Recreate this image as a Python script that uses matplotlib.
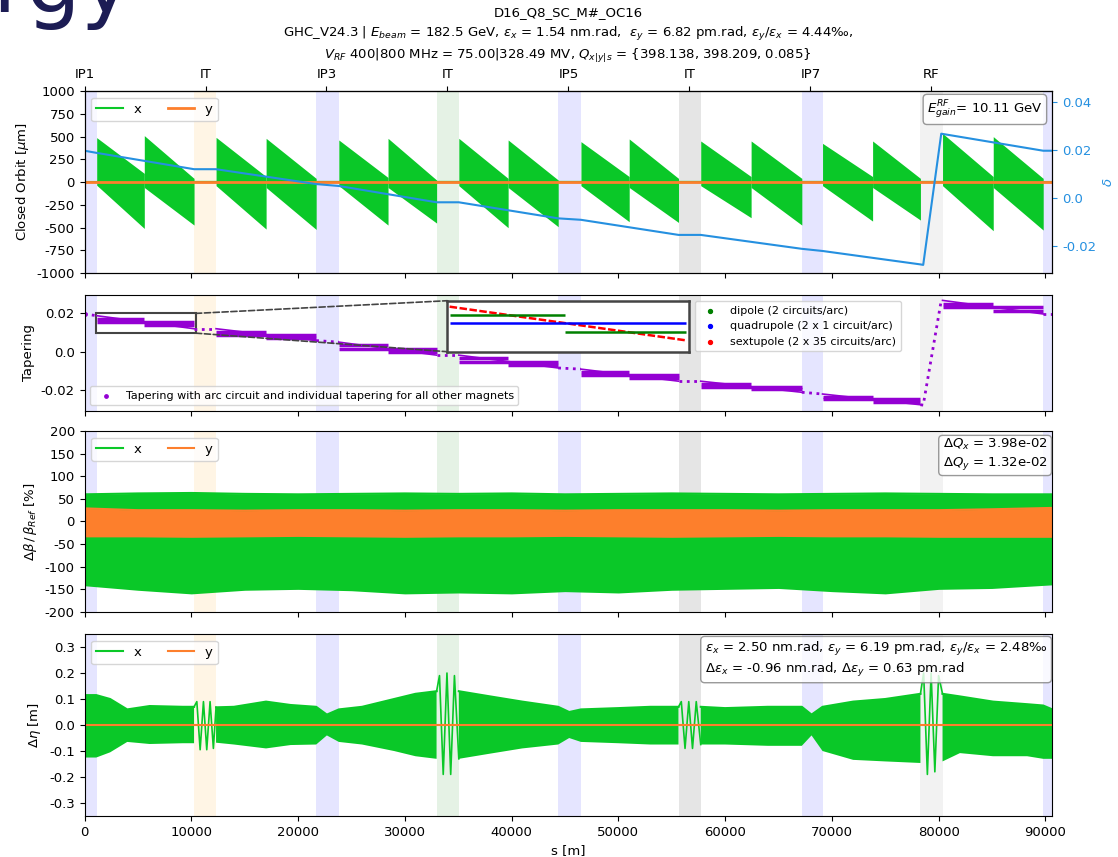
import numpy as np
import matplotlib.pyplot as plt
from matplotlib.patches import Rectangle, ConnectionPatch

plt.rcParams['font.size'] = 9.5
plt.rcParams['axes.unicode_minus'] = False

GREEN = '#0ac828'
ORANGE = '#fd7f2c'
BLUE = '#2590e0'
PURPLE = 'darkviolet'

L = 90658.7

# top axis: interaction points / straights
ip_names = ['IP1', 'IT', 'IP3', 'IT', 'IP5', 'IT', 'IP7', 'RF']
ip_pos = [0, 11332.6, 22665.2, 33997.8, 45330.4, 56663.0, 67995.6, 79328.2]

# shaded straight sections
str_start = [0, 10260, 21700, 32980, 44370, 55640, 67190, 78300, 89800]
str_end = [1140, 12320, 23820, 35060, 46500, 57720, 69130, 80370, 90658.7]
str_color = ['blue', 'orange', 'blue', 'green', 'blue', 'black', 'blue', 'gray', 'blue']

# momentum offset delta along the ring (breakpoints)
delta_s = [0, 1140, 10260, 12320, 21700, 23820, 32980, 35060, 44370, 46500,
           55640, 57720, 67190, 69130, 78300, 78560, 80250, 89800, 90658.7]
delta_v = [0.0197, 0.0188, 0.0120, 0.0120, 0.0058, 0.0050, -0.0018, -0.0018,
           -0.0085, -0.0091, -0.0154, -0.0154, -0.0212, -0.0221, -0.0277,
           -0.0279, 0.0268, 0.0197, 0.0197]

# closed orbit x: sawtooth envelopes per half arc [um]
co_s0 = [1140, 5600, 12320, 17010, 23820, 28430, 35060, 39680,
         46500, 51020, 57720, 62440, 69130, 73820, 80370, 85120]
co_s1 = [5600, 10260, 17010, 21700, 28430, 32980, 39680, 44370,
         51020, 55640, 62440, 67190, 73820, 78300, 85120, 89800]
co_top0 = [488, 510, 491, 480, 462, 480, 480, 462, 444, 473, 451, 451, 425, 451, 535, 499]
co_top1 = [95, 40, 60, 40, 50, 22, 40, 22, 60, 40, 60, 40, 60, 40, 60, 40]
co_bot0 = [-35, -60, -40, -60, -40, -60, -40, -60, -40, -60, -40, -60, -40, -60, -40, -60]
co_bot1 = [-510, -473, -517, -521, -473, -451, -502, -491, -436, -444, -392, -473, -429, -418, -535, -528]

# tapering levels per arc (arc start / end)
arc_s0 = [1140, 12320, 23820, 35060, 46500, 57720, 69130, 80370]
arc_s1 = [10260, 21700, 32980, 44370, 55640, 67190, 78300, 89800]
arc_mid = [5600, 17010, 28430, 39680, 51020, 62440, 73820, 85120]
sext_d0 = [0.0188, 0.0120, 0.0050, -0.0018, -0.0091, -0.0154, -0.0221, 0.0268]
sext_d1 = [0.0120, 0.0058, -0.0018, -0.0085, -0.0154, -0.0212, -0.0277, 0.0197]
dip_a = [0.0171, 0.0105, 0.0033, -0.0035, -0.0107, -0.0168, -0.0235, 0.0250]
dip_b = [0.0137, 0.0074, -0.0001, -0.0068, -0.0138, -0.0197, -0.0263, 0.0215]
quad = [0.0154, 0.0089, 0.0016, -0.0052, -0.0123, -0.0183, -0.0249, 0.0232]

# beta beating envelopes [%]
bb_s = [0, 5000, 10000, 15000, 20000, 25000, 30000, 35000, 40000, 45000,
        50000, 55000, 60000, 65000, 70000, 75000, 80000, 85000, 90658.7]
bx_hi = [60, 62, 63, 61, 60, 61, 62, 61, 62, 60, 61, 62, 61, 60, 61, 62, 61, 60, 60]
bx_lo = [-142, -152, -160, -152, -150, -153, -160, -158, -160, -155,
         -158, -152, -150, -148, -155, -160, -150, -148, -140]
by_hi = [29, 25, 25, 24, 25, 25, 24, 25, 25, 24, 25, 25, 25, 24, 25, 25, 25, 27, 30]
by_lo = [-34, -34, -35, -34, -33, -34, -35, -34, -34, -33, -34, -35, -34, -33, -34, -34, -35, -35, -35]

# dispersion beating envelopes in the arcs [m] (nan = oscillating straight)
eta_s = [0, 1100, 2400, 4000, 6100, 9200, 10260, 11300, 12320, 14000, 17000,
         19300, 21700, 22700, 23820, 26000, 29000, 31000, 32980, 34000, 35060,
         38000, 41000, 44370, 45400, 46500, 50000, 53000, 55640, 56700, 57720,
         60000, 64000, 67190, 68100, 69130, 72000, 75000, 78300, 79300, 80370,
         82000, 85100, 88300, 89800, 90658.7]
eta_hi = [0.115, 0.115, 0.10, 0.06, 0.073, 0.07, 0.07, np.nan, 0.068, 0.07, 0.09,
          0.077, 0.07, 0.04, 0.06, 0.07, 0.10, 0.12, 0.13, np.nan, 0.13,
          0.11, 0.09, 0.07, 0.05, 0.06, 0.065, 0.07, 0.07, np.nan, 0.07,
          0.065, 0.07, 0.07, 0.04, 0.07, 0.09, 0.10, 0.12, np.nan, 0.12,
          0.11, 0.09, 0.08, 0.075, 0.06]
eta_lo = [-0.125, -0.125, -0.105, -0.065, -0.073, -0.07, -0.07, np.nan, -0.068, -0.075, -0.09,
          -0.077, -0.075, -0.04, -0.065, -0.075, -0.10, -0.12, -0.13, np.nan, -0.13,
          -0.11, -0.09, -0.075, -0.05, -0.065, -0.07, -0.075, -0.075, np.nan, -0.075,
          -0.075, -0.08, -0.08, -0.04, -0.10, -0.134, -0.14, -0.146, np.nan, -0.14,
          -0.108, -0.12, -0.12, -0.13, -0.13]
# dispersion beating oscillation in IT / RF straights (peaks)
wig1_s = [10260, 10520, 10830, 11140, 11450, 11760, 12070, 12320]
wig1_v = [0.07, 0.09, -0.095, 0.09, -0.095, 0.09, -0.09, 0.068]
wig2_s = [32980, 33250, 33600, 33950, 34300, 34650, 35060]
wig2_v = [0.13, 0.19, -0.19, 0.20, -0.19, 0.19, -0.13]
wig3_s = [55640, 55900, 56250, 56600, 56950, 57300, 57720]
wig3_v = [0.07, 0.09, -0.09, 0.09, -0.09, 0.09, -0.075]
wig4_s = [78300, 78600, 78950, 79300, 79650, 80000, 80370]
wig4_v = [0.12, 0.20, -0.19, 0.20, -0.18, 0.19, 0.12]

fig = plt.figure(figsize=(11.18, 8.57), dpi=100)
ax1 = fig.add_axes([0.0756, 0.6814, 0.8657, 0.2124])
ax2 = fig.add_axes([0.0756, 0.5208, 0.8657, 0.1354], sharex=ax1)
ax3 = fig.add_axes([0.0756, 0.2859, 0.8657, 0.2112], sharex=ax1)
ax4 = fig.add_axes([0.0756, 0.0478, 0.8657, 0.2124], sharex=ax1)

for ax in (ax1, ax2, ax3, ax4):
    for a, b, c in zip(str_start, str_end, str_color):
        ax.axvspan(a, b, color=c, alpha=0.1, lw=0)
    ax.set_xlim(0, L)
for ax in (ax1, ax2, ax3):
    ax.tick_params(labelbottom=False)

box = dict(boxstyle='round', facecolor='white', edgecolor='gray', alpha=0.8)

# --- closed orbit
for i in range(len(co_s0)):
    ax1.fill_between([co_s0[i], co_s1[i]], [co_bot0[i], co_bot1[i]],
                     [co_top0[i], co_top1[i]], color=GREEN, lw=0)
ax1.plot(str_start + str_end, np.zeros(len(str_start) * 2), color=GREEN,
         lw=1.5, label='x')
ax1.plot([0, L], [0, 0], color=ORANGE, lw=2, label='y')
ax1.set_ylim(-1000, 1000)
ax1.set_yticks(np.arange(-1000, 1001, 250))
ax1.set_ylabel(r'Closed Orbit [$\mu$m]')
ax1.legend(loc='upper left', ncol=2)
ax1.text(0.99, 0.96, r'$E^{RF}_{gain}$= 10.11 GeV', transform=ax1.transAxes,
         ha='right', va='top', bbox=box)

ax1r = ax1.twinx()
ax1r.plot(delta_s, delta_v, color=BLUE, lw=1.5)
ax1r.set_ylim(-0.0313, 0.0446)
ax1r.set_yticks([-0.02, 0.0, 0.02, 0.04], ['-0.02', '0.0', '0.02', '0.04'])
ax1r.tick_params(axis='y', colors=BLUE)
ax1r.set_ylabel(r'$\delta$', color=BLUE)

top = ax1.secondary_xaxis('top')
top.set_xticks(ip_pos, ip_names)

# --- tapering
ds = np.array(delta_s)
dv = np.array(delta_v)
for a, b in zip(str_start, str_end):
    m = (ds >= a) & (ds <= b)
    ax2.plot(ds[m], dv[m], ':', color=PURPLE, lw=2)
for i in range(len(arc_s0)):
    ax2.plot([arc_s0[i], arc_s1[i]], [sext_d0[i], sext_d1[i]], color=PURPLE, lw=1.2)
ax2.hlines(dip_a, arc_s0, arc_mid, color=PURPLE, lw=2.5)
ax2.hlines(dip_b, arc_mid, arc_s1, color=PURPLE, lw=2.5)
ax2.hlines(quad, arc_s0, arc_s1, color=PURPLE, lw=2.5)
ax2.scatter(delta_s[:1], delta_v[:1], s=6, color=PURPLE,
            label='Tapering with arc circuit and individual tapering for all other magnets')
ax2.set_ylim(-0.0308, 0.0298)
ax2.set_yticks([-0.02, 0.0, 0.02], ['-0.02', '0.0', '0.02'])
ax2.set_ylabel('Tapering')
ax2.legend(loc='lower left', fontsize=8)

# zoom inset on first arc
zx = (1050, 10400)
zy = (0.0097, 0.0200)
axins = fig.add_axes([0.4001, 0.5896, 0.2165, 0.0595])
axins.plot([arc_s0[0], arc_s1[0]], [sext_d0[0], sext_d1[0]], color='r', lw=1.8,
           ls=(0, (3, 1)))
axins.hlines([dip_a[0]], arc_s0[0], arc_mid[0], color='g', lw=1.8)
axins.hlines([dip_b[0]], arc_mid[0], arc_s1[0], color='g', lw=1.8)
axins.hlines([quad[0]], arc_s0[0], arc_s1[0], color='b', lw=1.8)
axins.scatter([], [], s=8, color='g', label='dipole (2 circuits/arc)')
axins.scatter([], [], s=8, color='b', label='quadrupole (2 x 1 circuit/arc)')
axins.scatter([], [], s=8, color='r', label='sextupole (2 x 35 circuits/arc)')
axins.set_xlim(zx)
axins.set_ylim(zy)
axins.set_xticks([])
axins.set_yticks([])
for sp in axins.spines.values():
    sp.set_color('#444444')
    sp.set_linewidth(1.8)
axins.legend(loc='center left', bbox_to_anchor=(1.0, 0.5), fontsize=8)
ax2.add_patch(Rectangle((zx[0], zy[0]), zx[1] - zx[0], zy[1] - zy[0],
                        fill=False, ec='#444444', lw=1.5))
for yy, yi in ((zy[1], 1), (zy[0], 0)):
    con = ConnectionPatch(xyA=(zx[1], yy), coordsA=ax2.transData,
                          xyB=(0, yi), coordsB=axins.transAxes,
                          color='#444444', ls='--', lw=1.2)
    fig.add_artist(con)

# --- beta beating
ax3.fill_between(bb_s, bx_lo, bx_hi, color=GREEN, lw=0)
ax3.plot(bb_s, bx_hi, color=GREEN, lw=1.5, label='x')
ax3.fill_between(bb_s, by_lo, by_hi, color=ORANGE, lw=0)
ax3.plot(bb_s, by_hi, color=ORANGE, lw=1.5, label='y')
ax3.set_ylim(-200, 200)
ax3.set_yticks(np.arange(-200, 201, 50))
ax3.set_ylabel(r'$\Delta\beta\,/\,\beta_{Ref}$ [%]')
ax3.legend(loc='upper left', ncol=2)
ax3.text(0.995, 0.965, '$\\Delta Q_x$ = 3.98e-02\n$\\Delta Q_y$ = 1.32e-02',
         transform=ax3.transAxes, ha='right', va='top', bbox=box)

# --- dispersion beating
ax4.fill_between(eta_s, eta_lo, eta_hi, color=GREEN, lw=0)
ax4.plot(eta_s, eta_hi, color=GREEN, lw=1.5, label='x')
for ws, wv in ((wig1_s, wig1_v), (wig2_s, wig2_v), (wig3_s, wig3_v), (wig4_s, wig4_v)):
    ax4.plot(ws, wv, color=GREEN, lw=1.2)
ax4.plot([0, L], [0, 0], color=ORANGE, lw=1.5, label='y')
ax4.set_ylim(-0.35, 0.35)
ax4.set_yticks(np.arange(-0.3, 0.31, 0.1))
ax4.set_ylabel(r'$\Delta\eta$ [m]')
ax4.set_xlabel('s [m]')
ax4.set_xticks(np.arange(0, 90001, 10000))
ax4.legend(loc='upper left', ncol=2)
ax4.text(0.995, 0.965,
         '$\\epsilon_x$ = 2.50 nm.rad, $\\epsilon_y$ = 6.19 pm.rad, $\\epsilon_y/\\epsilon_x$ = 2.48\u2030\n'
         '$\\Delta\\epsilon_x$ = -0.96 nm.rad, $\\Delta\\epsilon_y$ = 0.63 pm.rad',
         transform=ax4.transAxes, ha='right', va='top', multialignment='left', bbox=box)

# title lines
cx = 0.508
fig.text(cx, 1 - 13 / 857, 'D16_Q8_SC_M#_OC16', ha='center', va='center')
fig.text(cx, 1 - 34.5 / 857,
         'GHC_V24.3 | $E_{beam}$ = 182.5 GeV, $\\epsilon_x$ = 1.54 nm.rad,  '
         '$\\epsilon_y$ = 6.82 pm.rad, $\\epsilon_y/\\epsilon_x$ = 4.44\u2030,',
         ha='center', va='center')
fig.text(cx, 1 - 56 / 857,
         '$V_{RF}$ 400|800 MHz = 75.00|328.49 MV, $Q_{x|y|s}$ = {398.138, 398.209, 0.085}',
         ha='center', va='center')

# slide text behind the figure (cut at the top edge as in the source)
fig.text(-8 / 1118, 1 - 12 / 857, 'rgy', fontsize=62, color='#1c1c54',
         ha='left', va='baseline')

fig.savefig('out.png', dpi=100)
